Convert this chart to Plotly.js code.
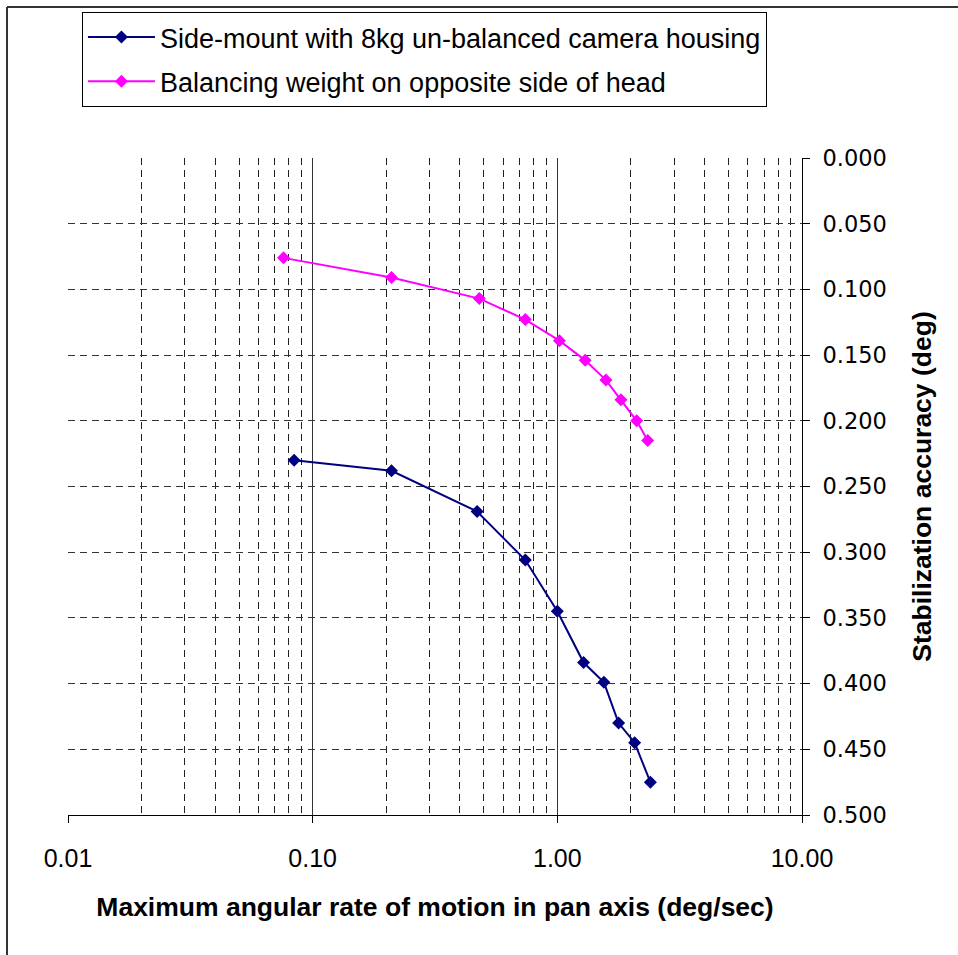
<!DOCTYPE html>
<html>
<head>
<meta charset="utf-8">
<script src="https://cdn.plot.ly/plotly-3.0.1.min.js"></script>
<style>html,body{margin:0;padding:0;background:#fff;}#chart{width:958px;height:955px;}</style>
</head>
<body>
<div id="chart"></div>
<script>
// Data
const seriesNames = [
  "Side-mount with 8kg un-balanced camera housing",
  "Balancing weight on opposite side of head"
];
const unbalancedRate = [0.084, 0.21, 0.47, 0.74, 1.00, 1.28, 1.55, 1.78, 2.07, 2.40];
const unbalancedAccuracy = [0.230, 0.238, 0.269, 0.306, 0.345, 0.384, 0.399, 0.430, 0.445, 0.475];
const balancedRate = [0.076, 0.21, 0.48, 0.74, 1.02, 1.30, 1.58, 1.82, 2.11, 2.34];
const balancedAccuracy = [0.076, 0.091, 0.107, 0.123, 0.139, 0.154, 0.169, 0.184, 0.200, 0.215];
const xTickVals = [0.01, 0.1, 1, 10];
const xTickText = ["0.01", "0.10", "1.00", "10.00"];
const xTitle = "Maximum angular rate of motion in pan axis (deg/sec)";
const yTitle = "Stabilization accuracy (deg)";

const ARIAL = "Liberation Sans, Arial, sans-serif";
const gridDash = "7px,5px";

const traces = [
  {
    x: unbalancedRate, y: unbalancedAccuracy, name: seriesNames[0],
    type: "scatter", mode: "lines+markers", legendgroup: "a",
    line: {color: "#000080", width: 2},
    marker: {symbol: "diamond", size: 10, color: "#000080"}
  },
  {
    x: balancedRate, y: balancedAccuracy, name: seriesNames[1],
    type: "scatter", mode: "lines+markers", legendgroup: "b",
    line: {color: "#FF00FF", width: 2},
    marker: {symbol: "diamond", size: 10, color: "#FF00FF"}
  }
];

const layout = {
  width: 958, height: 955,
  margin: {l: 68, r: 156, t: 158, b: 140},
  paper_bgcolor: "#ffffff", plot_bgcolor: "#ffffff",
  font: {family: ARIAL, color: "#000"},
  showlegend: true,
  legend: {
    x: 0.019, y: 1.2222, xanchor: "left", yanchor: "top",
    bordercolor: "#000", borderwidth: 1, bgcolor: "#fff",
    font: {family: ARIAL, size: 27, color: "#000"},
    traceorder: "grouped", tracegroupgap: 6,
    itemwidth: 67
  },
  xaxis: {
    type: "log", range: [-2, 1],
    tickvals: xTickVals, ticktext: xTickText,
    ticks: "outside", ticklen: 7, tickcolor: "#000",
    ticklabelstandoff: 14,
    tickfont: {family: ARIAL, size: 25, color: "#000"},
    showline: true, linecolor: "#000", linewidth: 1,
    showgrid: true, gridcolor: "#333", gridwidth: 1,
    zeroline: false,
    minor: {dtick: "D1", showgrid: true, gridcolor: "#222", griddash: gridDash, gridwidth: 1, ticks: ""},
    title: {text: "<b>" + xTitle + "</b>", font: {family: ARIAL, size: 26.5, color: "#000"}, standoff: 26},
    fixedrange: true
  },
  yaxis: {
    side: "right", range: [0.5, 0], dtick: 0.05, tick0: 0,
    tickformat: ".3f",
    ticks: "outside", ticklen: 7, tickcolor: "#000",
    ticklabelstandoff: 8,
    tickfont: {family: "DejaVu Sans, sans-serif", size: 22.5, color: "#000"},
    showline: true, linecolor: "#000", linewidth: 1,
    showgrid: true, gridcolor: "#333", griddash: gridDash, gridwidth: 1,
    zeroline: false,
    title: {text: "<b>" + yTitle + "</b>", font: {family: ARIAL, size: 26.5, color: "#000"}, standoff: 26},
    fixedrange: true
  },
  shapes: [
    {type: "line", xref: "paper", yref: "paper", x0: -0.0831, x1: -0.0831, y0: 1.2298, y1: -0.22, line: {color: "#333", width: 2}},
    {type: "line", xref: "paper", yref: "paper", x0: -0.0831, x1: 1.22, y0: 1.2298, y1: 1.2298, line: {color: "#333", width: 2}}
  ]
};

Plotly.newPlot("chart", traces, layout, {staticPlot: true, displayModeBar: false});
</script>
</body>
</html>
